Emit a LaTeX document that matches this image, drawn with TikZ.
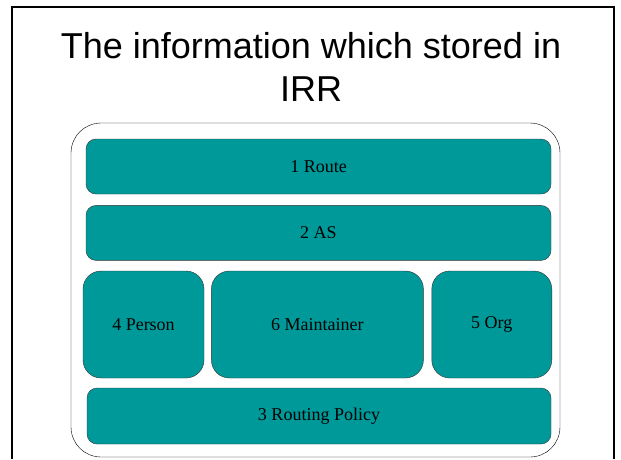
\documentclass[tikz,border=0pt]{standalone}
\usepackage{fontspec}
\setmainfont{Liberation Serif}
\setsansfont{Liberation Sans}
\usetikzlibrary{positioning}
\definecolor{irrteal}{RGB}{0,153,153}

\begin{document}
\begin{tikzpicture}[x=1pt,y=-1pt]
\tikzstyle{block}=[rectangle, rounded corners=10pt, draw=black!80, fill=irrteal, inner sep=0pt, font=\fontsize{18}{21}\selectfont]
\tikzstyle{wide}=[block, minimum width=465pt, minimum height=55pt]
\tikzstyle{tall}=[block, rounded corners=18pt, minimum height=107pt]
\tikzstyle{store}=[rectangle, rounded corners=30pt, draw=black, minimum width=489pt, minimum height=334pt]
\tikzstyle{frame}=[line width=2pt]

  \useasboundingbox (0,0) rectangle (621,459);
  \draw[frame] (12,459) -- (12,7) -- (614,7) -- (614,459);

  \node[font=\sffamily\fontsize{36}{43}\selectfont, align=center] (title) at (311,67)
       {The information which stored in\\IRR};

  \node[store] (irr) at (315.5,290) {};

  \node[wide] (route) at (318.5,166.5) {1 Route};
  \node[wide] (as) [below=11pt of route] {2 AS};
  \node[tall, minimum width=121pt] (person) at (143.5,324.5) {4 Person};
  \node[tall, minimum width=212pt] (maint) [right=7pt of person] {6 Maintainer};
  \node[tall, minimum width=120pt] (org) [right=8pt of maint] {5 Org};
  \node[wide, minimum width=464pt, minimum height=56pt] (policy) at (319,416) {3 Routing Policy};

\end{tikzpicture}
\end{document}
